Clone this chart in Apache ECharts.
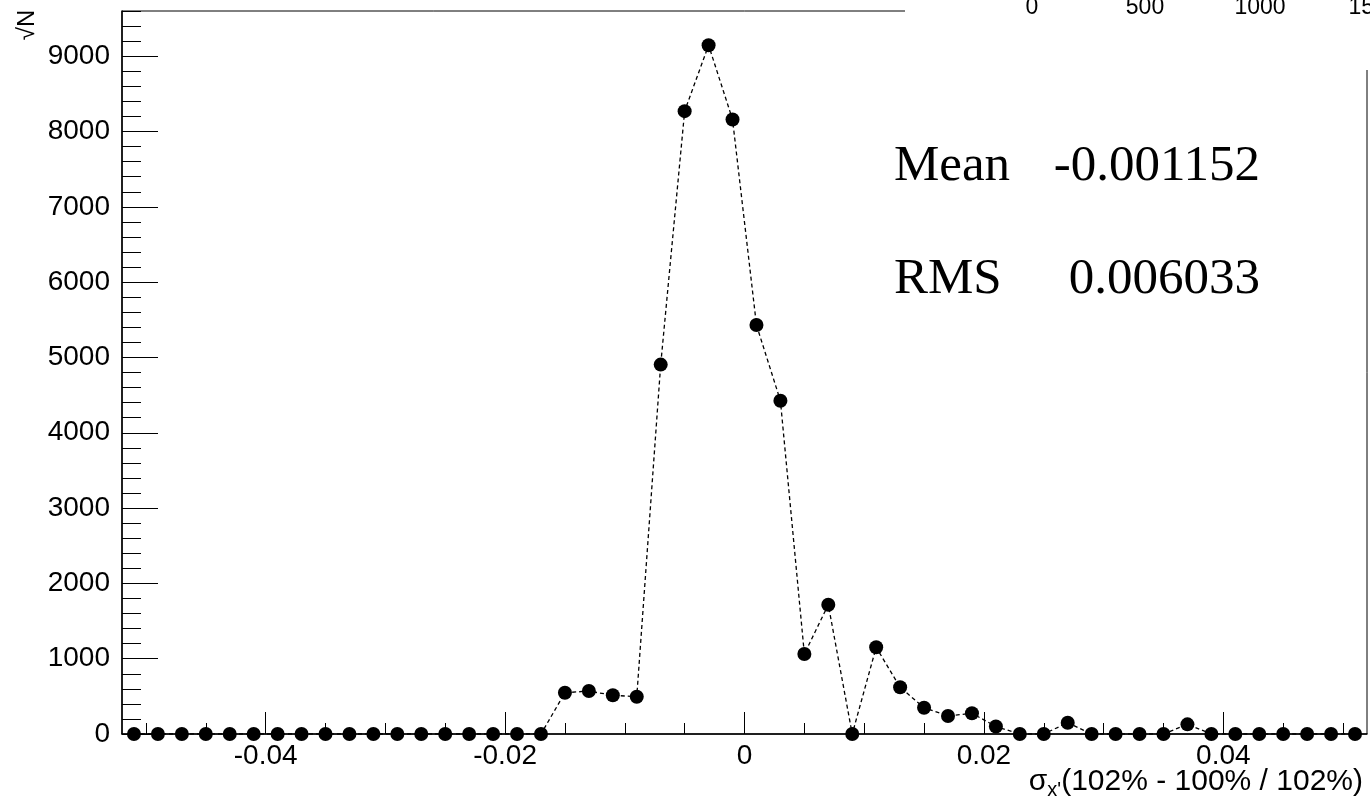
<!DOCTYPE html>
<html>
<head>
<meta charset="utf-8">
<script src="https://cdn.jsdelivr.net/npm/echarts@6/dist/echarts.min.js"></script>
<style>
html,body{margin:0;padding:0;background:#fff;}
#chart{width:1370px;height:802px;}
</style>
</head>
<body>
<div id="chart"></div>
<script>
// Bin centres (bin width 0.002)
const binCenters = [
  -0.051,-0.049,-0.047,-0.045,-0.043,-0.041,-0.039,-0.037,-0.035,-0.033,
  -0.031,-0.029,-0.027,-0.025,-0.023,-0.021,-0.019,-0.017,-0.015,-0.013,
  -0.011,-0.009,-0.007,-0.005,-0.003,-0.001,0.001,0.003,0.005,0.007,
  0.009,0.011,0.013,0.015,0.017,0.019,0.021,0.023,0.025,0.027,
  0.029,0.031,0.033,0.035,0.037,0.039,0.041,0.043,0.045,0.047,
  0.049,0.051
];
// Entries per bin
const counts = [
  0,0,0,0,0,0,0,0,0,0,
  0,0,0,0,0,0,0,0,548,570,
  514,495,4905,8270,9146,8160,5430,4425,1062,1717,
  0,1151,620,349,239,275,100,0,0,150,
  0,0,0,0,128,0,0,0,0,0,
  0,0
];
const xMajorTicks = [-0.04,-0.02,0,0.02,0.04];
const xMajorLabels = ['-0.04','-0.02','0','0.02','0.04'];
const xMinorTicks = [-0.05,-0.045,-0.04,-0.035,-0.03,-0.025,-0.02,-0.015,-0.01,-0.005,0,0.005,0.01,0.015,0.02,0.025,0.03,0.035,0.04,0.045,0.05];
const yMajorTicks = [0,1000,2000,3000,4000,5000,6000,7000,8000,9000];
const topPadLabels = ['0','500','1000','1500'];
const statNames = ['Mean','RMS'];
const statValues = ['-0.001152','0.006033'];

const X_MIN = -0.052, X_MAX = 0.052, Y_MIN = 0, Y_MAX = 9600;
const sans = 'Liberation Sans, Arial, Helvetica, sans-serif';
const serif = 'Liberation Serif, Times New Roman, serif';

const chart = echarts.init(document.getElementById('chart'), null, {renderer:'canvas'});

const data = binCenters.map((x,i)=>[x,counts[i]]);

const topPadX = [1032,1145,1260,1374];

const option = {
  backgroundColor:'#fff',
  animation:false,
  grid:{left:122,right:3,top:11,bottom:68,show:true,borderColor:'#000',borderWidth:1,backgroundColor:'transparent'},
  xAxis:[
    {type:'value',min:X_MIN,max:X_MAX,position:'bottom',
     axisLine:{show:true,onZero:false,lineStyle:{color:'#000',width:1.5}},
     axisTick:{show:true,inside:true,length:22,lineStyle:{color:'#000',width:1},customValues:xMajorTicks},
     axisLabel:{show:true,margin:8,color:'#000',fontSize:28,fontFamily:sans,customValues:xMajorTicks,
       formatter:function(v){const i=xMajorTicks.findIndex(t=>Math.abs(t-v)<1e-9);return i>=0?xMajorLabels[i]:'';}},
     splitLine:{show:false}},
    {type:'value',min:X_MIN,max:X_MAX,position:'bottom',
     axisLine:{show:false,onZero:false},
     axisTick:{show:true,inside:true,length:11,lineStyle:{color:'#000',width:1},customValues:xMinorTicks},
     axisLabel:{show:false},splitLine:{show:false}}
  ],
  yAxis:[
    {type:'value',min:Y_MIN,max:Y_MAX,position:'left',
     axisLine:{show:true,onZero:false,lineStyle:{color:'#000',width:1.5}},
     axisTick:{show:true,inside:true,length:36,lineStyle:{color:'#000',width:1},customValues:yMajorTicks},
     axisLabel:{show:true,margin:12,color:'#000',fontSize:28,fontFamily:sans,customValues:yMajorTicks,
       formatter:function(v){return String(Math.round(v));}},
     splitLine:{show:false}},
    {type:'value',min:Y_MIN,max:Y_MAX,interval:200,position:'left',
     axisLine:{show:false,onZero:false},
     axisTick:{show:true,inside:true,length:19,lineStyle:{color:'#000',width:1}},
     axisLabel:{show:false},splitLine:{show:false}}
  ],
  series:[{
    type:'line',xAxisIndex:0,yAxisIndex:0,data:data,
    symbol:'circle',symbolSize:14,
    itemStyle:{color:'#000'},
    lineStyle:{color:'#000',width:1.3,type:[4,3]},
    z:5
  }],
  graphic:[
    {type:'rect',shape:{x:905,y:0,width:465,height:70},style:{fill:'#fff'},z:100},
    ...topPadLabels.map((t,i)=>({type:'text',x:topPadX[i],y:8,z:101,
      style:{text:t,fill:'#000',font:'23px '+sans,align:'center',verticalAlign:'middle'}})),
    {type:'text',x:894,y:167,z:101,style:{text:statNames[0],fill:'#000',font:'51px '+serif,align:'left',verticalAlign:'middle'}},
    {type:'text',x:1260,y:167,z:101,style:{text:statValues[0],fill:'#000',font:'51px '+serif,align:'right',verticalAlign:'middle'}},
    {type:'text',x:894,y:280,z:101,style:{text:statNames[1],fill:'#000',font:'51px '+serif,align:'left',verticalAlign:'middle'}},
    {type:'text',x:1260,y:280,z:101,style:{text:statValues[1],fill:'#000',font:'51px '+serif,align:'right',verticalAlign:'middle'}},
    {type:'text',x:1363,y:782,z:101,
      style:{text:'{a|σ}{s|x\'}{a|(102% - 100% / 102%)}',align:'right',verticalAlign:'middle',
        rich:{a:{fontSize:30,fontFamily:sans,fill:'#000',color:'#000'},
              s:{fontSize:20,fontFamily:sans,fill:'#000',color:'#000',verticalAlign:'bottom',padding:[16,0,0,0]}}}},
    {type:'text',x:27,y:25,rotation:Math.PI/2,z:101,
      style:{text:'√N',fill:'#000',font:'24px '+sans,align:'center',verticalAlign:'middle'}}
  ]
};
chart.setOption(option);
</script>
</body>
</html>
